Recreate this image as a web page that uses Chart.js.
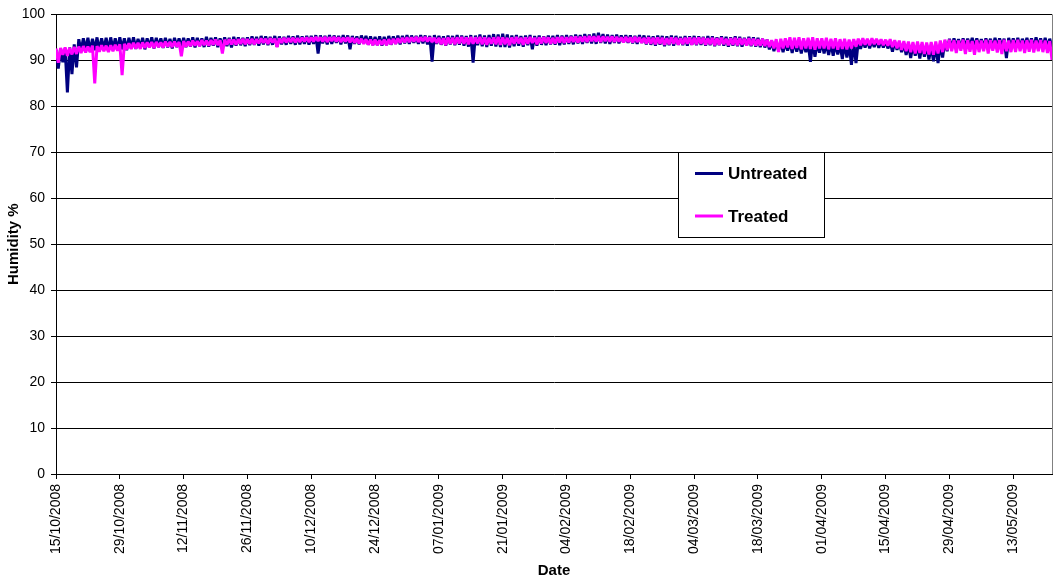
<!DOCTYPE html>
<html>
<head>
<meta charset="utf-8">
<script src="https://cdn.jsdelivr.net/npm/chart.js@4.4.1/dist/chart.umd.min.js"></script>
<style>
  html, body { margin: 0; padding: 0; background: #fff; }
  #wrap { width: 1055px; height: 580px; position: relative; }
</style>
</head>
<body>
<div id="wrap"><canvas id="c" width="1055" height="580"></canvas></div>
<script>
// Tick labels (every 14 days from 15/10/2008)
const tickLabels = ['15/10/2008','29/10/2008','12/11/2008','26/11/2008','10/12/2008','24/12/2008',
  '07/01/2009','21/01/2009','04/02/2009','18/02/2009','04/03/2009','18/03/2009',
  '01/04/2009','15/04/2009','29/04/2009','13/05/2009'];
const seriesNames = ['Untreated', 'Treated'];

// Daily high / low humidity readings (%), one value per day from 15/10/2008
const untreatedHigh = [
  92.3,92.5,92.6,92.8,93.5,94.6,94.8,94.9,94.7,95.0,94.8,94.9,95.0,94.8,
  95.0,94.8,94.9,95.0,94.7,94.9,94.8,95.0,94.9,94.8,94.9,94.7,94.9,94.8,
  94.9,94.8,95.0,94.9,94.8,95.1,94.9,95.0,94.8,95.0,94.9,95.1,95.0,94.9,
  95.0,95.2,95.1,95.3,95.2,95.1,95.3,95.2,95.1,95.3,95.2,95.4,95.2,95.3,
  95.3,95.5,95.4,95.3,95.5,95.4,95.3,95.5,95.4,95.3,95.2,95.4,95.3,95.2,
  95.1,95.2,95.1,95.3,95.2,95.4,95.3,95.5,95.4,95.3,95.5,95.4,95.3,95.5,
  95.3,95.2,95.4,95.3,95.5,95.4,95.3,95.5,95.4,95.6,95.4,95.5,95.7,95.6,
  95.8,95.6,95.4,95.5,95.3,95.4,95.5,95.3,95.4,95.2,95.4,95.3,95.5,95.4,
  95.5,95.4,95.6,95.5,95.7,95.6,95.8,96.0,95.7,95.6,95.5,95.6,95.4,95.5,
  95.4,95.3,95.5,95.4,95.3,95.2,95.4,95.3,95.2,95.4,95.3,95.1,95.3,95.2,
  95.3,95.2,95.1,95.3,95.2,95.0,95.2,95.1,95.0,95.2,95.1,94.9,95.1,95.0,
  94.9,94.7,94.5,94.2,94.0,94.1,93.9,94.0,94.2,93.8,93.9,93.7,94.0,93.8,
  93.9,93.7,93.8,93.6,93.5,93.7,93.4,94.0,94.2,94.3,94.4,94.3,94.5,94.4,
  94.3,94.1,94.0,93.8,93.7,93.5,93.4,93.3,93.5,93.4,93.2,93.3,93.6,94.2,
  94.7,94.8,94.6,94.8,94.7,94.9,94.8,94.6,94.8,94.7,94.9,94.8,94.7,94.9,
  94.8,94.9,94.7,94.9,94.8,95.0,94.8,94.9,94.7
];
const untreatedLow = [
  88.2,89.6,83.0,87.0,88.5,92.0,92.3,91.9,92.2,92.0,92.4,92.1,92.3,92.2,
  92.4,92.2,92.6,92.5,92.7,92.4,92.8,92.6,92.9,92.7,92.8,92.6,92.9,92.8,
  92.9,93.0,92.8,93.1,92.9,93.0,93.2,92.9,93.0,93.1,92.8,93.2,93.3,93.1,
  93.3,93.4,93.2,93.5,93.3,93.4,93.0,93.5,93.4,93.6,93.4,93.5,93.6,93.4,
  93.6,91.5,93.7,93.5,93.6,93.8,93.5,93.7,92.4,93.6,93.5,93.7,93.4,93.3,
  93.3,93.2,93.3,93.4,93.6,93.5,93.7,93.6,93.8,93.6,93.7,93.5,89.7,93.6,
  93.4,93.2,93.5,93.3,93.4,93.2,93.0,89.5,93.3,93.1,92.9,93.2,93.0,92.9,
  92.9,92.8,93.1,93.2,93.0,93.3,92.4,93.2,93.4,93.3,93.5,93.4,93.3,93.5,
  93.6,93.5,93.7,93.6,93.8,93.7,93.6,93.8,93.7,93.6,93.8,93.7,93.9,93.8,
  93.7,93.6,93.8,93.5,93.4,93.2,93.4,93.1,93.3,93.2,93.4,93.3,93.2,93.4,
  93.3,93.4,93.2,93.3,93.1,93.3,93.2,93.0,93.2,93.1,93.0,93.2,93.1,93.0,
  92.9,92.8,92.4,92.0,92.2,91.8,92.1,91.6,91.9,91.5,91.8,89.7,90.8,91.7,
  91.5,91.2,91.0,91.3,90.3,90.6,89.0,89.4,92.5,92.8,92.6,92.9,92.7,92.8,
  92.6,91.9,92.3,91.8,91.2,90.5,91.0,90.4,90.8,90.2,89.8,89.4,90.6,92.0,
  92.8,93.0,92.6,92.9,93.1,92.7,93.0,92.8,93.1,92.6,92.9,93.0,90.5,92.8,
  92.9,92.7,93.0,92.8,92.6,92.9,92.7,92.8,92.9
];
const treatedHigh = [
  92.6,92.7,92.8,92.7,92.9,93.0,93.1,93.0,93.2,93.1,93.3,93.2,93.3,93.4,
  93.5,93.6,93.7,93.8,93.8,93.9,93.9,94.0,94.0,93.9,94.1,94.0,94.1,94.0,
  94.2,94.1,94.3,94.2,94.4,94.3,94.4,94.5,94.4,94.5,94.6,94.5,94.6,94.7,
  94.6,94.7,94.6,94.8,94.7,94.8,94.7,94.8,94.9,94.8,94.9,94.8,94.9,95.0,
  95.0,95.1,95.0,95.1,95.0,95.1,95.0,94.9,95.0,94.9,94.8,94.7,94.6,94.5,
  94.5,94.4,94.5,94.6,94.7,94.8,94.9,95.0,95.0,95.1,95.0,95.1,95.0,94.9,
  94.9,94.8,95.0,94.9,95.0,95.1,95.0,95.1,95.0,95.1,95.0,94.9,95.0,95.1,
  95.0,94.9,95.0,95.1,94.9,95.0,95.1,94.9,95.0,95.1,95.0,94.9,95.0,95.1,
  95.0,95.1,95.2,95.1,95.2,95.3,95.2,95.3,95.2,95.1,95.2,95.1,95.0,95.1,
  95.0,95.1,95.0,94.9,95.0,94.9,95.0,94.9,94.8,95.0,94.9,94.8,94.9,95.0,
  94.9,95.0,94.9,94.8,94.9,94.8,94.9,94.7,94.8,94.9,94.8,94.7,94.8,94.7,
  94.6,94.7,94.5,94.4,94.6,94.7,94.8,95.0,94.9,95.0,94.8,94.9,95.0,94.8,
  94.8,94.9,94.7,94.8,94.6,94.7,94.5,94.6,94.7,94.8,94.7,94.8,94.7,94.6,
  94.5,94.6,94.4,94.3,94.2,94.1,94.0,94.1,94.0,93.9,94.0,94.1,94.3,94.5,
  94.5,94.4,94.3,94.5,94.4,94.2,94.4,94.3,94.5,94.4,94.3,94.4,94.5,94.3,
  94.4,94.5,94.3,94.4,94.5,94.3,94.4,94.3,94.2
];
const treatedLow = [
  89.5,91.2,91.0,91.3,91.4,91.6,91.7,91.8,85.0,91.9,92.0,91.8,92.0,92.1,
  86.8,92.4,92.5,92.6,92.5,92.7,92.8,92.7,92.9,92.8,93.0,92.9,93.0,90.9,
  93.0,93.1,93.2,93.1,93.3,93.2,93.4,93.3,91.5,93.4,93.5,93.4,93.6,93.5,
  93.6,93.5,93.7,93.8,93.6,93.9,92.9,93.8,93.9,94.0,93.9,94.0,94.1,94.0,
  94.1,94.2,94.1,94.0,94.2,94.1,94.0,94.1,93.9,93.8,93.7,93.6,93.4,93.3,
  93.3,93.4,93.3,93.5,93.6,93.8,93.9,94.0,94.1,94.0,94.2,94.1,94.0,93.8,
  93.5,93.3,93.6,93.5,93.7,93.6,93.5,93.6,93.7,93.5,93.4,93.6,93.5,93.4,
  93.5,93.3,93.6,93.7,93.4,93.6,93.8,93.5,93.7,93.8,93.6,93.7,93.9,93.8,
  93.9,94.0,93.9,94.1,94.0,94.2,94.1,94.0,94.2,94.1,94.0,94.1,93.9,94.0,
  93.9,94.0,93.8,93.7,93.6,93.5,93.6,93.4,93.5,93.6,93.4,93.5,93.6,93.4,
  93.5,93.6,93.4,93.5,93.3,93.4,93.5,93.3,93.4,93.3,93.4,93.2,93.3,93.2,
  93.2,93.1,92.9,92.6,91.8,92.6,92.8,92.5,92.7,92.4,92.6,92.5,92.3,92.6,
  92.6,92.4,92.6,92.3,92.5,92.4,92.6,93.0,93.3,93.4,93.3,93.5,93.4,93.3,
  93.2,92.9,92.6,92.3,92.0,91.8,91.5,91.6,91.4,91.3,91.2,91.5,91.8,92.2,
  92.0,91.6,92.1,91.4,91.9,91.2,91.8,92.0,91.5,92.1,91.7,91.4,92.0,91.8,
  91.8,92.0,91.6,91.9,91.7,92.0,91.8,91.6,90.1
];

const FONT = "'Liberation Sans', Arial, sans-serif";

function toPoints(hi, lo) {
  const pts = [];
  hi.forEach((h, i) => {
    pts.push({ x: i, y: h });
    pts.push({ x: i + 0.5, y: lo[i] });
  });
  return pts;
}

const legendBox = {
  id: 'legendBox',
  afterDraw(chart) {
    const ctx = chart.ctx;
    const x = 678.5, y = 152.5, w = 146, h = 85;
    ctx.save();
    ctx.fillStyle = '#fff';
    ctx.fillRect(x, y, w, h);
    ctx.strokeStyle = '#000';
    ctx.lineWidth = 1;
    ctx.strokeRect(x, y, w, h);
    const rows = [173.5, 216];
    chart.data.datasets.forEach((ds, i) => {
      ctx.strokeStyle = ds.borderColor;
      ctx.lineWidth = 3;
      ctx.beginPath();
      ctx.moveTo(695, rows[i]);
      ctx.lineTo(723, rows[i]);
      ctx.stroke();
      ctx.fillStyle = '#000';
      ctx.font = 'bold 17px ' + FONT;
      ctx.textBaseline = 'middle';
      ctx.textAlign = 'left';
      ctx.fillText(ds.label, 728, rows[i] + 1);
    });
    // right border of plot area
    const a = chart.chartArea;
    ctx.strokeStyle = '#808080';
    ctx.lineWidth = 1;
    ctx.beginPath();
    ctx.moveTo(Math.round(a.right) + 0.5, a.top);
    ctx.lineTo(Math.round(a.right) + 0.5, a.bottom);
    ctx.stroke();
    ctx.restore();
  }
};

new Chart(document.getElementById('c'), {
  type: 'line',
  data: {
    datasets: [
      {
        label: seriesNames[0],
        data: toPoints(untreatedHigh, untreatedLow),
        borderColor: '#000080',
        borderWidth: 3,
        borderJoinStyle: 'bevel',
        pointRadius: 0,
        tension: 0,
        fill: false,
        order: 1
      },
      {
        label: seriesNames[1],
        data: toPoints(treatedHigh, treatedLow),
        borderColor: '#FF00FF',
        borderWidth: 3,
        borderJoinStyle: 'bevel',
        pointRadius: 0,
        tension: 0,
        fill: false,
        order: 0
      }
    ]
  },
  options: {
    responsive: false,
    animation: false,
    devicePixelRatio: 1,
    layout: { padding: { top: 9, right: 3, left: 0, bottom: 0 } },
    plugins: {
      legend: { display: false },
      tooltip: { enabled: false }
    },
    scales: {
      x: {
        type: 'linear',
        min: 0,
        max: 218.5,
        afterFit(s) { s.height = 106; },
        afterBuildTicks(s) {
          s.ticks = s.ticks.filter(t => t.value % 14 === 0 && t.value / 14 < tickLabels.length);
        },
        ticks: {
          stepSize: 14,
          autoSkip: false,
          minRotation: 90,
          maxRotation: 90,
          padding: 5,
          color: '#000',
          font: { family: FONT, size: 14 },
          callback: (v) => tickLabels[v / 14]
        },
        grid: { drawOnChartArea: false, drawTicks: true, tickLength: 5, color: '#000' },
        border: { display: true, color: '#000', width: 1 },
        title: {
          display: true,
          text: 'Date',
          color: '#000',
          font: { family: FONT, size: 15, weight: 'bold' },
          padding: { top: 0, bottom: 0 }
        }
      },
      y: {
        min: 0,
        max: 100,
        afterFit(s) { s.width = 56; },
        ticks: {
          stepSize: 10,
          padding: 6,
          color: '#000',
          font: { family: FONT, size: 14 }
        },
        grid: { color: '#000', lineWidth: 1, tickLength: 5 },
        border: { display: true, color: '#000', width: 1 },
        title: {
          display: true,
          text: 'Humidity %',
          color: '#000',
          font: { family: FONT, size: 15, weight: 'bold' },
          padding: { top: 5, bottom: 0 }
        }
      }
    }
  },
  plugins: [legendBox]
});
</script>
</body>
</html>
